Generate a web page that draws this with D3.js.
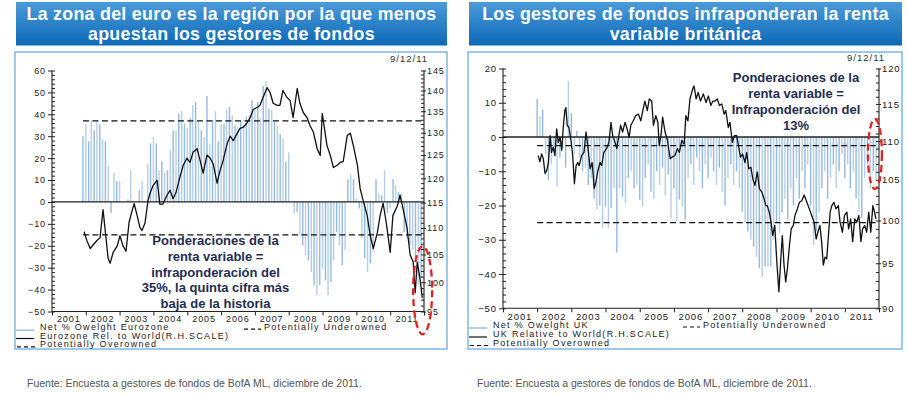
<!DOCTYPE html>
<html>
<head>
<meta charset="utf-8">
<script src="https://cdn.jsdelivr.net/npm/d3@7"></script>
<style>
  body { margin: 0; background: #fff; }
  svg { display: block; font-family: "Liberation Sans", Arial, sans-serif; }
</style>
</head>
<body>
<div id="chart"></div>
<script>
// ---------- data ----------
const yearLabels = ["2001", "2002", "2003", "2004", "2005", "2006", "2007", "2008", "2009", "2010", "2011"];

// Eurozone: net % overweight (monthly, Dec 2001 - Dec 2011), left scale
const euroBarValues = [
  30, 35.5, 27.7, 37.3, 32.6, 37, 35.5, 28.6, 27.7, 16.3, -5, 13.4,
  9.5, 9.5, 0, 0, 1.2, 14.5, 0, 0, 5.3, 9.5, 0, 17.4,
  26.7, 29.7, 26.7, 14.5, 18.6, 13.4, 14.5, 24, 32.6, 32.6, 40.4, 41.4,
  35.8, 33.8, 38.4, 44.2, 45.4, 36.5, 32.6, 29.7, 48.4, 26.7, 37.3, 41.4,
  27.7, 35.5, 35.5, 42.3, 43.4, 39.6, 35, 34.2, 37.3, 35, 38.8, 39.6,
  46.4, 41.9, 45.7, 38.1, 53, 55, 42.6, 41.9, 36.5, 34.6, 31, 29.2,
  18.3, 22.6, 0, -5.3, -4.6, -15.2, -19.8, -24.4, -26.6, -32, -38, -42.6,
  -38, -30.4, -35.8, -42.6, -36.5, -26.6, -13.7, -19.8, -28.9, -22, 10.4, 12.5,
  10.4, 1.7, -3, -16.7, -25.8, -32, -28, -22.8, 10.4, 3.8, 3, 14.5,
  -5, -3, 10.4, 7.6, 4.6, 4, -13.7, -16.7, -19.8, -22, -25.8, -38, -35
];
// Eurozone relative to world, right (log) scale
const euroLineYears = [
  2001.95, 2002.03, 2002.13, 2002.22, 2002.33, 2002.42, 2002.51, 2002.66, 2002.72, 2002.81,
  2002.93, 2003.01, 2003.10, 2003.19, 2003.28, 2003.37, 2003.43, 2003.52, 2003.60, 2003.66,
  2003.75, 2003.84, 2003.90, 2003.99, 2004.11, 2004.19, 2004.28, 2004.40, 2004.49, 2004.58,
  2004.67, 2004.78, 2004.88, 2004.99, 2005.08, 2005.17, 2005.29, 2005.38, 2005.47, 2005.58,
  2005.68, 2005.77, 2005.88, 2005.97, 2006.06, 2006.18, 2006.27, 2006.36, 2006.48, 2006.56,
  2006.65, 2006.77, 2006.86, 2006.95, 2007.07, 2007.15, 2007.24, 2007.36, 2007.45, 2007.54,
  2007.66, 2007.74, 2007.83, 2007.95, 2008.04, 2008.13, 2008.25, 2008.33, 2008.43, 2008.54,
  2008.63, 2008.73, 2008.84, 2008.93, 2008.99, 2009.13, 2009.23, 2009.32, 2009.43, 2009.52,
  2009.61, 2009.73, 2009.82, 2009.91, 2010.03, 2010.11, 2010.20, 2010.32, 2010.41, 2010.50,
  2010.62, 2010.70, 2010.79, 2010.88, 2011.00, 2011.08, 2011.21, 2011.29, 2011.38, 2011.50,
  2011.59, 2011.68, 2011.74, 2011.80, 2011.88, 2011.95
];
const euroLineValues = [
  109.3, 107.6, 106.1, 106.8, 107.6, 108.1, 113.6, 104.3, 103.4, 105.4,
  106.6, 108.5, 106.6, 105.6, 111.1, 113.4, 114.8, 112.4, 110.1, 109.5,
  110.9, 115.4, 116.9, 118.5, 119.6, 114.7, 114.7, 116.5, 117.5, 115.8,
  117.1, 120.2, 122.8, 124.3, 123.4, 125.6, 126.4, 123.8, 121.1, 125,
  124.3, 123, 119, 121.7, 123.8, 127.6, 129.2, 128.2, 129.9, 131,
  131.2, 132.3, 133.5, 135.4, 135.9, 136.4, 138.3, 140.7, 139.5, 136.9,
  136.4, 136.4, 140, 138.3, 137.6, 133.5, 140.5, 136.9, 134.7, 133.5,
  131.6, 130.1, 126.4, 124.9, 134.5, 127.1, 124.9, 122.3, 122.8, 123.4,
  123.6, 129.4, 129.9, 127.1, 122.8, 117.9, 115.4, 112.4, 108.5, 106.1,
  109.1, 112.4, 114.9, 111.2, 105.4, 112.4, 114.3, 116.5, 113.8, 109.9,
  104.9, 103.6, 98.2, 103.6, 100.7, 97.3
];
const euroOverowned = 37;
const euroUnderowned = -15;
const euroLeftTicks = [-50, -40, -30, -20, -10, 0, 10, 20, 30, 40, 50, 60];
const euroRightTicks = [95, 100, 105, 110, 115, 120, 125, 130, 135, 140, 145];

// UK: net % overweight (monthly, Jan 2002 - Dec 2011), left scale
const ukBarValues = [
  11.1, 6, 8, -5, -12.5, -8, -4, -14.4, -6, -3, -9, 16.3,
  7, -5, 1.8, -6, -10, -9, -14, -12, -18, -21, -20, -26.6,
  -20.3, -26.6, -20.8, -15, -33.7, -15, -17.4, -19.3, -12, -10, -15, -14,
  -18.3, -20.3, -12, -8, -16, -18, -10, -14, -9, -17, -11, -23.7,
  -15, -24.7, -18.3, -20.3, -24.1, -12, -8, -14, -6, -10, -15, -8,
  -12, -6, -10, -14, -9, -16, -20, -12, -8, -14, -10, -15,
  -21.8, -25, -27.6, -30, -32, -35, -38.3, -40.8, -37.8, -37.8, -37.8, -30,
  -25, -28, -22, -18, -24, -15, -20, -12, -18, -10, -15, -8,
  -20, -31.5, -27.6, -22, -15, -10, -18, -12, -8, -15, -10, -5,
  -12, -8, -15, -10, -18, -21.8, -23.7, -12, -8, -15, -10, -13
];
// UK relative to world, right (log) scale
const ukLineYears = [
  2002.03, 2002.08, 2002.13, 2002.18, 2002.23, 2002.28, 2002.33, 2002.38, 2002.42, 2002.47,
  2002.52, 2002.57, 2002.62, 2002.67, 2002.72, 2002.76, 2002.81, 2002.84, 2002.88, 2002.93,
  2002.99, 2003.04, 2003.09, 2003.14, 2003.19, 2003.23, 2003.30, 2003.37, 2003.43, 2003.49,
  2003.55, 2003.61, 2003.67, 2003.72, 2003.77, 2003.84, 2003.89, 2003.95, 2004.03, 2004.10,
  2004.16, 2004.21, 2004.28, 2004.33, 2004.39, 2004.44, 2004.50, 2004.57, 2004.62, 2004.69,
  2004.74, 2004.81, 2004.88, 2004.96, 2005.03, 2005.09, 2005.15, 2005.22, 2005.28, 2005.35,
  2005.40, 2005.47, 2005.53, 2005.57, 2005.62, 2005.67, 2005.74, 2005.81, 2005.89, 2005.95,
  2006.03, 2006.10, 2006.16, 2006.23, 2006.30, 2006.35, 2006.41, 2006.47, 2006.55, 2006.59,
  2006.65, 2006.71, 2006.78, 2006.86, 2006.94, 2007.01, 2007.08, 2007.14, 2007.20, 2007.27,
  2007.33, 2007.40, 2007.47, 2007.52, 2007.59, 2007.64, 2007.71, 2007.77, 2007.84, 2007.88,
  2007.95, 2008.01, 2008.08, 2008.13, 2008.19, 2008.25, 2008.31, 2008.37, 2008.44, 2008.50,
  2008.57, 2008.64, 2008.69, 2008.73, 2008.79, 2008.84, 2008.89, 2008.95, 2009.01, 2009.07,
  2009.12, 2009.17, 2009.22, 2009.27, 2009.32, 2009.38, 2009.43, 2009.49, 2009.54, 2009.61,
  2009.67, 2009.74, 2009.81, 2009.89, 2009.96, 2010.03, 2010.10, 2010.16, 2010.21, 2010.27,
  2010.32, 2010.37, 2010.42, 2010.47, 2010.52, 2010.57, 2010.62, 2010.68, 2010.74, 2010.81,
  2010.86, 2010.93, 2010.99, 2011.06, 2011.11, 2011.17, 2011.23, 2011.29, 2011.35, 2011.41,
  2011.47, 2011.52, 2011.58, 2011.64, 2011.70, 2011.76, 2011.82, 2011.87, 2011.91
];
const ukLineValues = [
  108.1, 107.3, 108.3, 107.7, 105.8, 106.2, 107.2, 110.7, 108.5, 109.2,
  108.1, 111.6, 109.8, 110.5, 108.8, 111.6, 114.1, 114.5, 112.1, 111.8,
  110.1, 108.1, 104.5, 106.8, 107.2, 106.8, 108.1, 108.5, 111.2, 109.0,
  106.4, 107.2, 103.9, 104.7, 106.0, 107.2, 106.8, 108.5, 109.0, 109.8,
  112.5, 110.7, 109.8, 109.0, 110.7, 112.1, 111.2, 112.5, 111.8, 110.5,
  112.1, 112.7, 113.4, 113.6, 112.7, 114.1, 115.4, 114.1, 115.7, 115.4,
  112.1, 113.4, 112.5, 109.4, 110.7, 113.2, 111.2, 110.1, 107.7, 107.9,
  108.1, 109.0, 108.5, 110.1, 109.6, 113.4, 112.7, 115.7, 117.1, 117.5,
  115.7, 116.6, 115.4, 116.4, 115.2, 116.1, 114.8, 115.4, 115.4, 115.7,
  114.8, 115.0, 113.6, 114.1, 111.8, 112.5, 109.8, 110.7, 110.7, 109.6,
  107.9, 108.3, 107.2, 108.5, 106.4, 106.6, 105.1, 104.3, 106.0, 103.9,
  103.5, 102.6, 101.8, 101.8, 101.0, 99.8, 98.2, 99.4, 95.1, 91.8,
  95.1, 98.2, 94.8, 92.9, 94.4, 97.1, 99.0, 99.4, 100.6, 101.4,
  102.2, 102.4, 103.1, 102.2, 101.4, 100.6, 99.8, 97.8, 98.6, 99.4,
  97.5, 94.8, 95.7, 95.5, 98.2, 101.0, 101.8, 102.2, 101.4, 101.8,
  99.8, 98.6, 100.6, 101.0, 99.0, 100.2, 97.5, 100.2, 99.8, 100.6,
  97.5, 99.0, 99.4, 98.6, 101.0, 98.6, 101.8, 101.0, 100.2
];
const ukOverowned = -2.5;
const ukUnderowned = -25;
const ukLeftTicks = [-50, -40, -30, -20, -10, 0, 10, 20];
const ukRightTicks = [90, 95, 100, 105, 110, 115, 120];

const sourceText = "Fuente: Encuesta a gestores de fondos de BofA ML, diciembre de 2011.";

// ---------- helpers ----------
// decimal year -> Date
function toDate(y) {
  const yr = Math.floor(y);
  const a = new Date(yr, 0, 1), b = new Date(yr + 1, 0, 1);
  return new Date(+a + (y - yr) * (b - a));
}

const svg = d3.select("#chart").append("svg")
  .attr("width", 907)
  .attr("height", 396);

const grad = svg.append("defs").append("linearGradient")
  .attr("id", "titleGrad").attr("x1", 0).attr("y1", 0).attr("x2", 0).attr("y2", 1);
grad.append("stop").attr("offset", "0%").attr("stop-color", "#4c9bd9");
grad.append("stop").attr("offset", "100%").attr("stop-color", "#0b69b6");

const panels = [
  {
    title: ["La zona del euro es la región por la que menos", "apuestan los gestores de fondos"],
    box: [16, 447], frame: [15, 52, 447, 349],
    plot: { left: 52, right: 424, top: 70.5, bottom: 311.5 },
    leftDomain: [-50, 60], rightDomain: [95, 145],
    leftTicks: euroLeftTicks, rightTicks: euroRightTicks,
    barMonths: d3.timeMonth.range(new Date(2001, 11, 1), new Date(2012, 0, 1)),
    barValues: euroBarValues,
    lineYears: euroLineYears, lineValues: euroLineValues,
    over: euroOverowned, under: euroUnderowned,
    date: [428, 62],
    note: { x: 215.5, y: 245, lines: ["Ponderaciones de la", "renta variable =", "infraponderación del", "35%, la quinta cifra más", "baja de la historia"] },
    ellipse: { year: 2011.96, value: 98.6, rx: 9.5, ry: 44 },
    legend: ["Net % Owelght Eurozone", "Eurozone Rel. to World(R.H.SCALE)", "Potentially Overowned"],
    legendRows: [330.2, 338.5, 346.8], underX: 249,
    yearGap: 10.3,
    axisFont: 9,
    source: 27
  },
  {
    title: ["Los gestores de fondos infraponderan la renta", "variable británica"],
    box: [469, 902], frame: [468, 52, 902, 349],
    plot: { left: 503, right: 879, top: 68.5, bottom: 308.3 },
    leftDomain: [-50, 20], rightDomain: [90, 120],
    leftTicks: ukLeftTicks, rightTicks: ukRightTicks,
    barMonths: d3.timeMonth.range(new Date(2002, 0, 1), new Date(2012, 0, 1)),
    barValues: ukBarValues,
    lineYears: ukLineYears, lineValues: ukLineValues,
    over: ukOverowned, under: ukUnderowned,
    date: [885, 61],
    note: { x: 796, y: 82.3, lines: ["Ponderaciones de la", "renta variable =", "Infraponderación del", "13%"] },
    ellipse: { year: 2011.88, value: 108.3, rx: 7, ry: 35 },
    legend: ["Net % Owelght UK", "UK Relative to World(R.H.SCALE)", "Potentially Overowned"],
    legendRows: [328, 337, 345.5], underX: 235,
    yearGap: 11.5,
    axisFont: 9.5,
    source: 477
  }
];

panels.forEach(drawPanel);

function drawPanel(p) {
  const g = svg.append("g");
  const pl = p.plot;

  // Title box
  g.append("rect")
    .attr("x", p.box[0]).attr("y", 2)
    .attr("width", p.box[1] - p.box[0]).attr("height", 43.5)
    .attr("fill", "url(#titleGrad)");
  g.append("text")
    .attr("fill", "#fff").attr("font-weight", "bold").attr("font-size", 17.8)
    .attr("letter-spacing", 0.3)
    .attr("text-anchor", "middle")
    .selectAll("tspan").data(p.title).join("tspan")
    .attr("x", (p.box[0] + p.box[1]) / 2)
    .attr("y", (d, i) => 19.6 + i * 20)
    .text(d => d);

  // Frame
  g.append("rect")
    .attr("x", p.frame[0]).attr("y", p.frame[1])
    .attr("width", p.frame[2] - p.frame[0]).attr("height", p.frame[3] - p.frame[1])
    .attr("fill", "none").attr("stroke", "#86bce8").attr("stroke-width", 1.6);

  // Scales
  const x = d3.scaleTime()
    .domain([new Date(2001, 0, 1), new Date(2012, 0, 1)])
    .range([pl.left, pl.right]);
  const yL = d3.scaleLinear().domain(p.leftDomain).range([pl.bottom, pl.top]);
  const yR = d3.scaleLog().domain(p.rightDomain).range([pl.bottom, pl.top]);

  // Bars
  const bars = p.barMonths.map((m, i) => ({ m: m, v: p.barValues[i] }));
  g.append("g").selectAll("rect").data(bars).join("rect")
    .attr("x", d => x(d.m) - 0.7)
    .attr("width", 1.4)
    .attr("y", d => Math.min(yL(0), yL(d.v)))
    .attr("height", d => Math.abs(yL(d.v) - yL(0)))
    .attr("fill", (d, i) => i % 2 ? "#b5cfea" : "#94b9e0");

  // Dashed reference lines
  const start = p.barMonths[0];
  [p.over, p.under].forEach(v => {
    g.append("line")
      .attr("x1", x(start)).attr("x2", pl.right)
      .attr("y1", yL(v)).attr("y2", yL(v))
      .attr("stroke", "#111").attr("stroke-width", 1.3)
      .attr("stroke-dasharray", "6,3.5");
  });

  // Zero line
  g.append("line")
    .attr("x1", pl.left).attr("x2", pl.right)
    .attr("y1", yL(0)).attr("y2", yL(0))
    .attr("stroke", "#222").attr("stroke-width", 1.3);

  // Relative performance line (right scale)
  const pts = p.lineYears.map((t, i) => [toDate(t), p.lineValues[i]]);
  g.append("path")
    .datum(pts)
    .attr("fill", "none").attr("stroke", "#111").attr("stroke-width", 1.3)
    .attr("stroke-linejoin", "round")
    .attr("d", d3.line().x(d => x(d[0])).y(d => yR(d[1])));

  // Axes
  const axisFont = g2 => g2.attr("font-family", "Liberation Sans, Arial, sans-serif")
    .attr("font-size", p.axisFont)
    .call(s => s.selectAll("text").attr("fill", "#222").attr("letter-spacing", 0.9))
    .call(s => s.selectAll("line").attr("stroke", "#222"))
    .call(s => s.select(".domain").remove());

  // left axis, major outward, minor inward
  g.append("g").attr("transform", `translate(${pl.left},0)`)
    .call(d3.axisLeft(yL).tickValues(p.leftTicks).tickSize(4).tickPadding(2))
    .call(axisFont);
  g.append("g").attr("transform", `translate(${pl.left},0)`)
    .call(d3.axisLeft(yL).tickValues(d3.range(p.leftDomain[0], p.leftDomain[1] + 0.1, 2)).tickSize(-3).tickFormat(""))
    .call(axisFont);

  // right axis (log), major outward, minor inward
  g.append("g").attr("transform", `translate(${pl.right},0)`)
    .call(d3.axisRight(yR).tickValues(p.rightTicks).tickSize(2).tickPadding(1).tickFormat(d3.format("d")))
    .call(axisFont);
  g.append("g").attr("transform", `translate(${pl.right},0)`)
    .call(d3.axisRight(yR).tickValues(d3.range(p.rightDomain[0], p.rightDomain[1] + 0.1, 1)).tickSize(-3).tickFormat(""))
    .call(axisFont);

  // bottom axis: ticks on year boundaries, labels in the middle of each year
  g.append("g").attr("transform", `translate(0,${pl.bottom})`)
    .call(d3.axisBottom(x).tickValues(d3.range(2001, 2013).map(y => new Date(y, 0, 1))).tickSize(4).tickFormat(""))
    .call(axisFont);
  g.append("g").selectAll("text").data(yearLabels).join("text")
    .attr("x", d => x(new Date(+d, 6, 1)))
    .attr("y", pl.bottom + p.yearGap)
    .attr("text-anchor", "middle")
    .attr("font-size", p.axisFont).attr("letter-spacing", 0.9).attr("fill", "#222")
    .text(d => d);

  // axis lines
  g.append("path")
    .attr("d", `M${pl.left},${pl.top}V${pl.bottom}H${pl.right}V${pl.top}`)
    .attr("fill", "none").attr("stroke", "#222").attr("stroke-width", 1.1);

  // Date stamp
  g.append("text")
    .attr("x", p.date[0]).attr("y", p.date[1])
    .attr("text-anchor", "end").attr("font-size", 9.5).attr("letter-spacing", 1)
    .attr("fill", "#333").text("9/12/11");

  // Annotation
  g.append("text")
    .attr("fill", "#1f2d52").attr("font-weight", "bold").attr("font-size", 13)
    .attr("text-anchor", "middle")
    .selectAll("tspan").data(p.note.lines).join("tspan")
    .attr("x", p.note.x)
    .attr("y", (d, i) => p.note.y + i * 15.8)
    .text(d => d);

  // Red highlight ellipse
  g.append("ellipse")
    .attr("cx", x(toDate(p.ellipse.year)))
    .attr("cy", yR(p.ellipse.value))
    .attr("rx", p.ellipse.rx).attr("ry", p.ellipse.ry)
    .attr("fill", "none").attr("stroke", "#e3211c").attr("stroke-width", 2.3)
    .attr("stroke-dasharray", "7,4");

  // Legend
  const fx = p.frame[0];
  const lg = g.append("g").attr("font-size", 9).attr("letter-spacing", 1.3).attr("fill", "#222");
  lg.append("line").attr("x1", fx + 1).attr("x2", fx + 19).attr("y1", p.legendRows[0]).attr("y2", p.legendRows[0])
    .attr("stroke", "#9dbfe3").attr("stroke-width", 1.5);
  lg.append("line").attr("x1", fx + 1).attr("x2", fx + 19).attr("y1", p.legendRows[1]).attr("y2", p.legendRows[1])
    .attr("stroke", "#111").attr("stroke-width", 1.2);
  lg.append("line").attr("x1", fx + 2).attr("x2", fx + 22).attr("y1", p.legendRows[2]).attr("y2", p.legendRows[2])
    .attr("stroke", "#111").attr("stroke-width", 1.2).attr("stroke-dasharray", "4,3");
  lg.selectAll("text.lab").data(p.legend).join("text").attr("class", "lab")
    .attr("x", fx + 25).attr("y", (d, i) => p.legendRows[i])
    .text(d => d);
  lg.append("line").attr("x1", fx + p.underX - 20).attr("x2", fx + p.underX - 3)
    .attr("y1", p.legendRows[0] - 1).attr("y2", p.legendRows[0] - 1)
    .attr("stroke", "#111").attr("stroke-width", 1.2).attr("stroke-dasharray", "4,3");
  lg.append("text").attr("x", fx + p.underX).attr("y", p.legendRows[0]).text("Potentially Underowned");

  // Source
  svg.append("text")
    .attr("x", p.source).attr("y", 387)
    .attr("font-size", 10.5).attr("fill", "#555")
    .text(sourceText);
}
</script>
</body>
</html>
